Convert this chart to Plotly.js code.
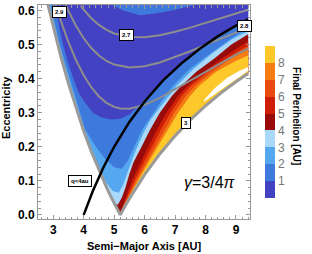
<!DOCTYPE html>
<html><head><meta charset="utf-8">
<script src="https://cdn.plot.ly/plotly-3.0.1.min.js"></script>
<style>html,body{margin:0;padding:0;background:#fff}#plot{width:312px;height:254px}</style>
</head><body><div id="plot"></div><script>
// ---- data (a = semi-major axis [AU], e = eccentricity) ----
const levels = [1,2,3,4,5,6,7,8];
const binColors = ['#4242c2','#3e79dc','#55a8f0','#a9d8f8','#990b0b','#cf1e06','#e84b12','#f47c12','#fcc82a'];

// outer boundary of the computed region (T = 3), left and right branches
const L_a = [2.82,2.9,3.0,3.25,3.5,3.75,4.0,4.25,4.5,4.75,4.9,5.0,5.1,5.2];
const L_e = [0.6196,0.5891,0.552,0.4648,0.3851,0.3125,0.2465,0.1863,0.131,0.0809,0.0524,0.0344,0.0167,0];
const R_a = [5.2,5.3,5.5,6.0,6.5,7.0,7.5,8.0,8.5,9.0,9.4];
const R_e = [0,0.0167,0.0476,0.118,0.1789,0.232,0.2788,0.3203,0.3573,0.3905,0.4148];

// colour band boundaries (final perihelion = 1 ... 8 AU)
const c1_a = [3.05,3.1,3.2,3.32,3.48,3.66,3.83,4.0,4.3,4.6,4.9,5.2,5.5,5.8,6.1,6.45,6.67,7.27,8.0,8.89,9.4];
const c1_e = [0.62,0.6,0.55,0.5,0.45,0.4,0.36,0.335,0.3,0.285,0.28,0.282,0.295,0.32,0.35,0.38,0.4,0.45,0.5,0.55,0.574];
const c2_a = [2.9,2.95,3.09,3.22,3.38,3.55,3.71,3.88,4.05,4.4,4.7,5.0,5.25,5.45,5.7,5.95,6.3,6.6,6.94,7.5,8.1,8.8,9.4];
const c2_e = [0.62,0.6,0.55,0.5,0.45,0.4,0.35,0.3,0.25,0.2,0.165,0.14,0.135,0.16,0.21,0.255,0.3,0.34,0.38,0.43,0.47,0.515,0.55];
const c3_a = [4.46,4.7,4.95,5.15,5.3,5.45,5.6,5.76,5.96,6.2,6.38,6.72,7.06,7.62,8.24,8.86,9.4];
const c3_e = [0.14,0.1,0.07,0.065,0.09,0.13,0.165,0.2,0.24,0.28,0.3,0.34,0.38,0.43,0.475,0.515,0.54];
const c4_a = [5.0,5.12,5.25,5.37,5.5,5.64,5.9,6.18,6.5,6.9,7.22,7.7,8.3,8.85,9.4];
const c4_e = [0.0344,0.03,0.05,0.08,0.12,0.155,0.2,0.25,0.3,0.35,0.38,0.42,0.46,0.5,0.53];
const c5_a = [5.21,5.29,5.38,5.58,5.84,6.12,6.4,6.72,7.1,7.42,7.95,8.55,9.4];
const c5_e = [0.006,0.03,0.05,0.1,0.15,0.2,0.25,0.3,0.35,0.38,0.42,0.46,0.51];
const c6_a = [5.22,5.31,5.42,5.67,5.95,6.24,6.53,6.85,7.22,7.53,8.08,8.7,9.4];
const c6_e = [0.008,0.03,0.05,0.1,0.15,0.2,0.25,0.3,0.35,0.38,0.42,0.46,0.497];
const c7_a = [5.23,5.33,5.45,5.73,6.04,6.34,6.65,6.98,7.36,7.67,8.22,8.82,9.4];
const c7_e = [0.01,0.03,0.05,0.1,0.15,0.2,0.25,0.3,0.35,0.38,0.42,0.458,0.485];
const c8_a = [5.24,5.35,5.48,5.78,6.1,6.43,6.76,7.1,7.5,7.8,8.35,8.95,9.4];
const c8_e = [0.012,0.03,0.05,0.1,0.15,0.2,0.25,0.3,0.35,0.38,0.42,0.45,0.468];
// small blue patch at the top and white (uncomputed) patch on the right
const topLens_a = [4.85,5.3,5.85,6.3,6.9,7.8];
const topLens_e = [0.62,0.6,0.586,0.59,0.6,0.62];
const gap_a = [7.95,8.3,8.7,9.1,9.4,9.4,9.1,8.7,8.3,7.95];
const gap_e = [0.337,0.372,0.402,0.422,0.434,0.423,0.404,0.379,0.352,0.332];

// Tisserand contours (grey)
const T27_a = [3.9,4.0,4.25,4.5,4.75,5.0,5.5,6.0,6.5,7.0,7.5,8.0,8.5,9.0,9.4];
const T27_e = [0.6143,0.6025,0.5772,0.5576,0.5429,0.5324,0.5219,0.5213,0.5273,0.5373,0.5496,0.5631,0.5771,0.5912,0.6022];
const T28_a = [3.42,3.5,3.75,4.0,4.25,4.5,4.75,5.0,5.5,6.0,6.5,7.0,7.5,8.0,8.5,9.0,9.4];
const T28_e = [0.6146,0.5987,0.5545,0.5184,0.4897,0.4677,0.4518,0.4411,0.4325,0.436,0.4472,0.4627,0.4803,0.4988,0.5173,0.5355,0.5494];
const T29_a = [3.08,3.15,3.25,3.5,3.75,4.0,4.25,4.5,4.75,5.0,5.2,5.5,6.0,6.5,7.0,7.5,8.0,8.5,9.0,9.4];
const T29_e = [0.6166,0.5966,0.5692,0.507,0.4539,0.4099,0.3746,0.3476,0.3288,0.317,0.3122,0.3115,0.3228,0.3435,0.3686,0.3949,0.4211,0.4463,0.4702,0.4882];
// q = 4 AU line (black)
const q4_a = [4.0,4.3,4.65,5.0,5.5,6.0,6.6,7.2,7.8,8.4,9.07,9.4];
const q4_e = [0,0.07,0.14,0.2,0.273,0.333,0.394,0.444,0.487,0.524,0.559,0.574];

const xTicks = [3,4,5,6,7,8,9];
const yTicks = [0,0.1,0.2,0.3,0.4,0.5,0.6];
const labels = [
  {t:'2.9', a:3.19, e:0.595},
  {t:'2.7', a:5.39, e:0.527},
  {t:'2.8', a:9.28, e:0.554},
  {t:'3',   a:7.37, e:0.27},
  {t:'q<4au', a:3.885, e:0.099}
];

// ---- build polygons ----
const TOP = 0.62, RIGHT = 9.4;
function fillTrace(xs, ys, color){
  return {type:'scatter', mode:'lines', x:xs, y:ys, fill:'toself', fillcolor:color,
          line:{width:0, color:color}, hoverinfo:'skip', showlegend:false};
}
function lineTrace(xs, ys, color, w){
  return {type:'scatter', mode:'lines', x:xs, y:ys, line:{color:color, width:w},
          hoverinfo:'skip', showlegend:false};
}
function geqPoly(ca, ce){
  const xs = ca.slice(), ys = ce.slice();
  for(let i=R_a.length-1;i>=0;i--){ xs.push(R_a[i]); ys.push(R_e[i]); }
  for(let i=L_a.length-1;i>=0;i--){ if(L_e[i]>0 && L_e[i]<ce[0]){ xs.push(L_a[i]); ys.push(L_e[i]); } }
  return [xs, ys];
}
function ltPoly(ca, ce){
  const xs = ca.slice(), ys = ce.slice();
  xs.push(RIGHT); ys.push(TOP);
  return [xs, ys];
}
const traces = [];
{
  const xs = L_a.slice(), ys = L_e.slice();
  for(let i=1;i<R_a.length;i++){ xs.push(R_a[i]); ys.push(R_e[i]); }
  xs.push(RIGHT); ys.push(TOP);
  traces.push(fillTrace(xs, ys, binColors[2]));
}
const geqs = [[c3_a,c3_e],[c4_a,c4_e],[c5_a,c5_e],[c6_a,c6_e],[c7_a,c7_e],[c8_a,c8_e]];
geqs.forEach((c,k)=>{ const p = geqPoly(c[0], c[1]); traces.push(fillTrace(p[0], p[1], binColors[3+k])); });
traces.push(fillTrace(gap_a, gap_e, '#ffffff'));
{ const p = ltPoly(c2_a, c2_e); traces.push(fillTrace(p[0], p[1], binColors[1])); }
{ const p = ltPoly(c1_a, c1_e); traces.push(fillTrace(p[0], p[1], binColors[0])); }
traces.push(fillTrace(topLens_a, topLens_e, binColors[1]));

const grey = '#8e8e8e';
traces.push(lineTrace(T27_a, T27_e, grey, 2));
traces.push(lineTrace(T28_a, T28_e, grey, 2));
traces.push(lineTrace(T29_a, T29_e, grey, 2));
traces.push(lineTrace(L_a.concat(R_a.slice(1)), L_e.concat(R_e.slice(1)), '#9a9a9a', 3));
traces.push(lineTrace(q4_a, q4_e, '#000000', 2.5));

const cs = [];
binColors.forEach((c,i)=>{ cs.push([i/9, c]); cs.push([(i+1)/9, c]); });
traces.push({type:'scatter', mode:'markers', x:[null], y:[null], hoverinfo:'skip', showlegend:false,
  marker:{color:[0], cmin:0, cmax:9, colorscale:cs, showscale:true, size:1,
    colorbar:{x:1.0708, xanchor:'left', xpad:0, ypad:0, y:0.098, yanchor:'bottom',
      lenmode:'pixels', len:152, thickness:10, outlinewidth:0, ticks:'',
      tickvals:levels, ticktext:levels.map(String), tickfont:{size:12, color:'#777', family:'Arial, Liberation Sans, sans-serif'}}}});

const annotations = labels.map(l=>({x:l.a, y:l.e, xref:'x', yref:'y', text:l.t, showarrow:false,
  xanchor:'center', yanchor:'middle',
  font:{size:6, color:'#000', family:'Arial, Liberation Sans, sans-serif', weight:'bold'},
  bgcolor:'#fff', bordercolor:'#000', borderwidth:1, borderpad:2}));
annotations.push({x:7.22, y:0.096, xref:'x', yref:'y', text:'<i>γ</i>=3/4<i>π</i>', showarrow:false,
  xanchor:'left', yanchor:'middle',
  font:{size:16, color:'#000', family:'Arial, Liberation Sans, sans-serif'}});
annotations.push({x:0.5, y:-0.126, xref:'paper', yref:'paper', text:'Semi\u2212Major Axis [AU]', showarrow:false,
  xanchor:'center', yanchor:'middle', font:{size:11, weight:'bold', color:'#000'}});
annotations.push({x:-0.151, y:0.523, xref:'paper', yref:'paper', text:'Eccentricity', showarrow:false, textangle:-90,
  xanchor:'center', yanchor:'middle', font:{size:11, weight:'bold', color:'#000'}});
annotations.push({x:1.2217, y:0.481, xref:'paper', yref:'paper', text:'Final Perihelion [AU]', showarrow:false, textangle:90,
  xanchor:'center', yanchor:'middle', font:{size:10, weight:'bold', color:'#000'}});

const axisCommon = {showgrid:false, zeroline:false, showline:true, linecolor:'#999', linewidth:1,
  mirror:'allticks', ticks:'inside', ticklen:4, tickcolor:'#999', tickwidth:1,
  tickfont:{size:12, weight:'bold', color:'#000'}};
const layout = {
  width:312, height:254, margin:{l:38, r:62, t:5, b:35, pad:0},
  paper_bgcolor:'#fff', plot_bgcolor:'#fff', showlegend:false,
  font:{family:'Arial, Liberation Sans, sans-serif', color:'#000'},
  xaxis:Object.assign({}, axisCommon, {range:[2.5,9.46], tickvals:xTicks,
    minor:{dtick:0.2, ticks:'inside', ticklen:2.5, tickcolor:'#999'}}),
  yaxis:Object.assign({}, axisCommon, {range:[-0.012,0.616], tickvals:yTicks, tickformat:'.1f',
    minor:{dtick:0.02, ticks:'inside', ticklen:2.5, tickcolor:'#999'}}),
  annotations:annotations
};
Plotly.newPlot('plot', traces, layout, {staticPlot:true, displayModeBar:false});
</script></body></html>
